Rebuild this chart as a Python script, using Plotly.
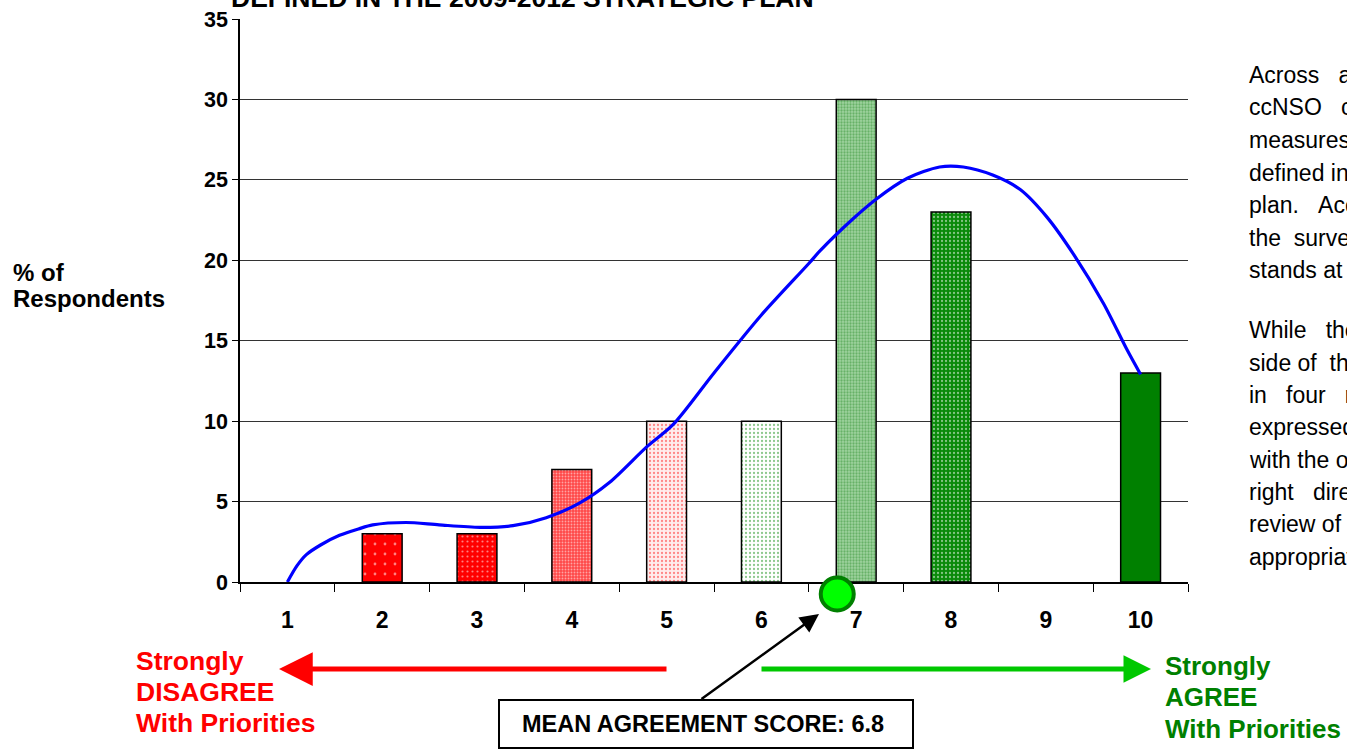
import plotly.graph_objects as go

# ---------------- data ----------------
categories = [1, 2, 3, 4, 5, 6, 7, 8, 9, 10]
pct_respondents = [0, 3, 3, 7, 10, 10, 30, 23, 0, 13]

# smoothed distribution curve
curve_x = [1, 1.1, 1.2, 1.35, 1.55, 1.75, 1.9, 2.25, 2.6, 3.03, 3.38, 3.73, 4.08, 4.4,
           4.79, 5.07, 5.5, 6.0, 6.5, 6.62, 6.97, 7.21, 7.54, 7.88, 8.13, 8.44, 8.73,
           9.01, 9.29, 9.61, 9.86, 10]
curve_y = [0, 1.0, 1.7, 2.3, 2.9, 3.3, 3.55, 3.7, 3.55, 3.4, 3.5, 4.0, 4.9, 6.2,
           8.4, 9.8, 13.0, 16.6, 19.8, 20.6, 22.6, 23.8, 25.1, 25.8, 25.8, 25.3, 24.4,
           22.7, 20.4, 17.3, 14.4, 12.9]

mean_score = 6.8
y_ticks = [0, 5, 10, 15, 20, 25, 30, 35]

title_text = "DEFINED IN THE 2009-2012 STRATEGIC PLAN"
y_title = ["% of", "Respondents"]
box_text = "MEAN AGREEMENT SCORE: 6.8"
left_label = ["Strongly", "DISAGREE", "With Priorities"]
right_label = ["Strongly", "AGREE", "With Priorities"]

NB = "\u00a0"
para1 = ["Across" + NB * 3 + "all" + NB * 3 + "regions,",
         "ccNSO" + NB * 3 + "community" + NB * 2 + "largely",
         "measures" + NB + "agreement",
         "defined" + NB + "in" + NB + "the" + NB + "strategic",
         "plan." + NB * 3 + "According" + NB + "to",
         "the" + NB * 2 + "survey," + NB + "the" + NB + "mean",
         "stands" + NB + "at" + NB + "6.8."]
para2 = ["While" + NB * 3 + "there" + NB + "is",
         "side" + NB + "of" + NB + NB + "the" + NB + "scale",
         "in" + NB * 3 + "four" + NB * 3 + "regions",
         "expressed" + NB + "some",
         "with" + NB + "the" + NB + "overall",
         "right" + NB * 3 + "direction",
         "review" + NB + "of" + NB + "the",
         "appropriate."]

# ---------------- styles ----------------
bar_styles = [
    dict(bg="#ffffff", fg="#ffffff", shape="", size=4, sol=0.3, lw=0),
    dict(bg="#ff0000", fg="#ffffff", shape=".", size=10, sol=0.06, lw=1.5),
    dict(bg="#ff0000", fg="#ffffff", shape=".", size=5, sol=0.15, lw=1.5),
    dict(bg="#ff4848", fg="#ffffff", shape=".", size=3, sol=0.3, lw=1.5),
    dict(bg="#ffecec", fg="#ff2020", shape=".", size=4, sol=0.25, lw=1.5),
    dict(bg="#ffffff", fg="#1a8f1a", shape=".", size=4, sol=0.25, lw=1.5),
    dict(bg="#9fd39f", fg="#2f8f2f", shape=".", size=3, sol=0.45, lw=1.5),
    dict(bg="#0a8a0a", fg="#ffffff", shape=".", size=4, sol=0.25, lw=1.5),
    dict(bg="#ffffff", fg="#ffffff", shape="", size=4, sol=0.3, lw=0),
    dict(bg="#008000", fg="#008000", shape="", size=4, sol=0.3, lw=1.5),
]

FONT = "Liberation Sans, Arial, sans-serif"
W, H = 1347, 750
L, R, T, B = 240, 1188, 19, 582  # plot area in pixels


def px(x):
    return (x - L) / (R - L)


def py(y):
    return (B - y) / (B - T)


fig = go.Figure()

for cat, val, st in zip(categories, pct_respondents, bar_styles):
    fig.add_trace(go.Bar(
        x=[cat], y=[val], width=0.42,
        marker=dict(color=st["bg"],
                    pattern=dict(shape=st["shape"], fgcolor=st["fg"], bgcolor=st["bg"],
                                 size=st["size"], solidity=st["sol"]),
                    line=dict(color="black", width=st["lw"])),
        showlegend=False, hoverinfo="skip"))

fig.add_trace(go.Scatter(
    x=curve_x, y=curve_y, mode="lines", line=dict(color="#0000ff", width=3.2, shape="spline", smoothing=0.8),
    showlegend=False, hoverinfo="skip"))

annotations = []

# title (cut off at top)
annotations.append(dict(x=px(229), y=py(-2.5), xref="paper", yref="paper", text="<b>" + title_text + "</b>",
                        showarrow=False, xanchor="left", yanchor="middle",
                        font=dict(family=FONT, size=26.5, color="black")))
# y title
for txt, yy in zip(y_title, [272, 298]):
    annotations.append(dict(x=px(11), y=py(yy), xref="paper", yref="paper", text="<b>" + txt + "</b>",
                            showarrow=False, xanchor="left", yanchor="middle", align="left",
                            font=dict(family=FONT, size=24, color="black")))

# right paragraph text
p1_y = [75, 107.5, 140, 172.5, 205, 237.5, 270]
p2_y = [330, 362.5, 395, 427, 459.5, 492, 524, 556.5]
for txt, yy in list(zip(para1, p1_y)) + list(zip(para2, p2_y)):
    annotations.append(dict(x=px(1247), y=py(yy), xref="paper", yref="paper", text=txt,
                            showarrow=False, xanchor="left", yanchor="middle", align="left",
                            font=dict(family=FONT, size=23, color="black")))

# left / right labels (one annotation per line)
for txt, yy in zip(left_label, [661, 692, 723]):
    annotations.append(dict(x=px(134), y=py(yy), xref="paper", yref="paper", text="<b>" + txt + "</b>",
                            showarrow=False, xanchor="left", yanchor="middle", align="left",
                            font=dict(family=FONT, size=26.5, color="#ff0000")))
for txt, yy in zip(right_label, [666, 697, 729]):
    annotations.append(dict(x=px(1163), y=py(yy), xref="paper", yref="paper", text="<b>" + txt + "</b>",
                            showarrow=False, xanchor="left", yanchor="middle", align="left",
                            font=dict(family=FONT, size=26, color="#008000")))

# red and green arrows
annotations.append(dict(x=px(279), y=py(669), xref="paper", yref="paper", ax=389, ay=0, text="",
                        showarrow=True, arrowhead=2, arrowsize=1.35, arrowwidth=5, arrowcolor="#ff0000"))
annotations.append(dict(x=px(1151), y=py(669), xref="paper", yref="paper", ax=-391, ay=0, text="",
                        showarrow=True, arrowhead=2, arrowsize=1.1, arrowwidth=5, arrowcolor="#00c800"))

# mean score box and arrow
annotations.append(dict(x=px(703), y=py(724), xref="paper", yref="paper", text="<b>" + box_text + "</b>",
                        showarrow=False, xanchor="center", yanchor="middle",
                        font=dict(family=FONT, size=23.5, color="black")))
annotations.append(dict(x=px(819), y=py(614), xref="paper", yref="paper", ax=-119, ay=86, text="",
                        showarrow=True, arrowhead=2, arrowsize=1.5, arrowwidth=2.5, arrowcolor="black"))

shapes = [
    dict(type="rect", xref="paper", yref="paper", x0=px(499), x1=px(913), y0=py(748), y1=py(700),
         line=dict(color="black", width=2), fillcolor="white", layer="below"),
    # mean score marker: placed at the mean on the x axis, just below the axis line
    dict(type="circle", xref="x", yref="paper", xsizemode="pixel", ysizemode="pixel",
         xanchor=mean_score, yanchor=py(594), x0=-16.5, x1=16.5, y0=-16.5, y1=16.5,
         fillcolor="#00ff00", line=dict(color="#008000", width=4), layer="above"),
]

fig.update_layout(
    width=W, height=H,
    margin=dict(l=L, r=W - R, t=T, b=H - B, pad=0, autoexpand=False),
    paper_bgcolor="white", plot_bgcolor="white",
    barmode="overlay",
    annotations=annotations,
    shapes=shapes,
    xaxis=dict(range=[0.5, 10.5], tickmode="array", tickvals=categories, automargin=False,
               ticktext=["<b>%d</b>" % c for c in categories], ticks="", showgrid=False,
               zeroline=False, showline=True, linecolor="black", linewidth=1.5,
               tickfont=dict(family=FONT, size=23, color="black"), ticklabelstandoff=17,
               minor=dict(tick0=0.5, dtick=1, ticks="outside", ticklen=8, tickcolor="black",
                          tickwidth=1, showgrid=False)),
    yaxis=dict(range=[0, 35], tickmode="array", tickvals=y_ticks, automargin=False,
               ticktext=["<b>%d</b>" % v for v in y_ticks], ticks="outside", ticklen=6,
               tickcolor="black", showgrid=True, gridcolor="#333333", gridwidth=1.3,
               zeroline=False, showline=True, linecolor="black", linewidth=1.5,
               tickfont=dict(family=FONT, size=21.5, color="black")),
)

fig.write_html("out.html", config={"displayModeBar": False},
               post_script="document.body.style.margin='0';")
